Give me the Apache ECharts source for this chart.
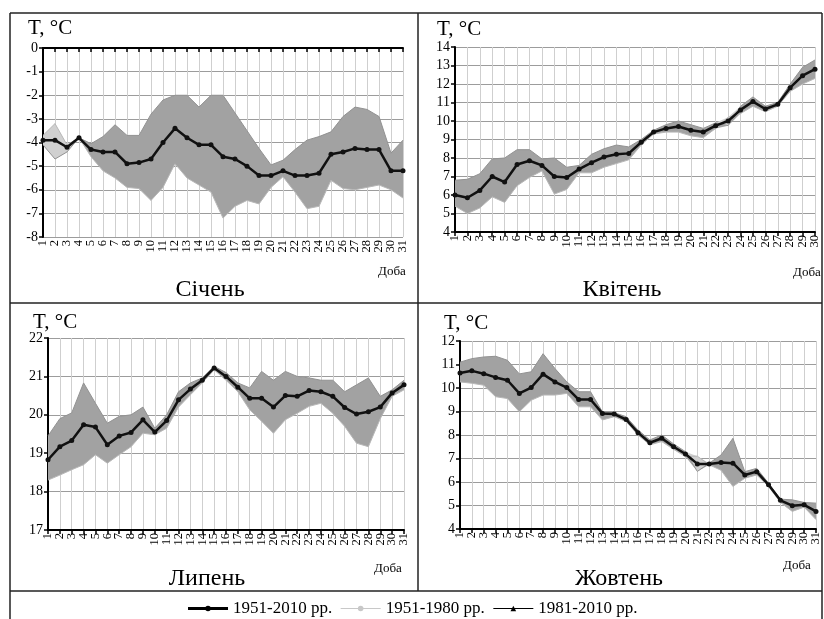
<!DOCTYPE html>
<html><head><meta charset="utf-8">
<script src="https://cdn.jsdelivr.net/npm/echarts@6/dist/echarts.min.js"></script>
<style>html,body{margin:0;padding:0;background:#fff}#c{width:824px;height:619px}</style>
</head><body><div id="c"></div>
<script>
const days31 = ['1','2','3','4','5','6','7','8','9','10','11','12','13','14','15','16','17','18','19','20','21','22','23','24','25','26','27','28','29','30','31'];
const days30 = ['1','2','3','4','5','6','7','8','9','10','11','12','13','14','15','16','17','18','19','20','21','22','23','24','25','26','27','28','29','30'];

const monthNames = ['Січень','Квітень','Липень','Жовтень'];
const seriesNames = ['1951-2010 рр.','1951-1980 рр.','1981-2010 рр.'];
const yUnit = 'T, °C';
const xUnit = 'Доба';

// January
const janAll = [-3.9,-3.9,-4.2,-3.8,-4.3,-4.4,-4.4,-4.9,-4.85,-4.7,-4.0,-3.4,-3.8,-4.1,-4.1,-4.6,-4.7,-5.0,-5.4,-5.4,-5.2,-5.4,-5.4,-5.3,-4.5,-4.4,-4.25,-4.3,-4.3,-5.2,-5.2];
const janP1 = [-3.7,-3.2,-4.1,-3.8,-4.6,-5.2,-5.5,-5.9,-5.95,-6.45,-5.9,-4.9,-5.5,-5.8,-6.1,-7.2,-6.7,-6.45,-6.6,-5.9,-5.45,-6.1,-6.8,-6.7,-5.6,-5.95,-6.0,-5.9,-5.8,-6.0,-6.35];
const janP2 = [-4.1,-4.7,-4.4,-3.8,-4.05,-3.75,-3.25,-3.7,-3.7,-2.8,-2.2,-2.0,-2.0,-2.5,-2.0,-2.0,-2.75,-3.5,-4.25,-4.95,-4.75,-4.3,-3.9,-3.75,-3.55,-2.9,-2.5,-2.6,-2.9,-4.45,-3.9];

// April
const aprAll = [6.0,5.85,6.25,7.0,6.7,7.65,7.85,7.6,7.0,6.95,7.4,7.75,8.05,8.2,8.25,8.85,9.4,9.6,9.7,9.5,9.4,9.75,10.0,10.6,11.05,10.65,10.9,11.8,12.45,12.8];
const aprP1 = [5.4,5.0,5.3,5.9,5.6,6.5,6.95,7.3,6.05,6.3,7.2,7.2,7.5,7.7,7.9,8.7,9.3,9.4,9.4,9.2,9.1,9.6,10.2,10.4,10.8,10.5,10.8,11.6,12.0,12.3];
const aprP2 = [6.8,6.85,7.15,7.95,8.0,8.45,8.45,7.95,8.0,7.5,7.6,8.2,8.5,8.7,8.6,9.0,9.5,9.8,10.0,9.8,9.6,9.9,9.75,10.8,11.3,10.8,11.0,12.0,12.9,13.3];

// July
const julAll = [18.83,19.17,19.33,19.74,19.68,19.22,19.45,19.54,19.87,19.55,19.85,20.39,20.67,20.9,21.22,21.0,20.72,20.43,20.43,20.2,20.5,20.48,20.63,20.6,20.48,20.19,20.02,20.08,20.2,20.57,20.78];
const julP1 = [18.3,18.43,18.57,18.7,18.96,18.74,18.96,19.17,19.52,19.48,19.65,20.2,20.52,20.83,21.17,20.9,20.6,20.13,19.83,19.52,19.87,20.04,20.22,20.3,20.04,19.7,19.26,19.17,19.9,20.48,20.65];
const julP2 = [19.45,19.9,20.05,20.83,20.3,19.78,19.96,20.0,20.2,19.65,20.0,20.6,20.83,20.96,21.26,21.1,20.83,20.7,21.13,20.9,21.13,21.0,20.96,20.9,20.9,20.6,20.78,20.96,20.48,20.65,20.9];

// October
const octAll = [10.64,10.73,10.61,10.45,10.33,9.77,10.02,10.59,10.26,10.02,9.51,9.51,8.92,8.89,8.66,8.1,7.67,7.86,7.5,7.19,6.77,6.77,6.83,6.8,6.3,6.44,5.88,5.22,4.99,5.03,4.75];
const octP1 = [10.26,10.2,10.12,9.63,9.55,8.99,9.48,9.7,9.7,9.77,9.2,9.2,8.64,8.78,8.57,8.0,7.58,7.72,7.39,7.08,7.1,6.73,6.5,5.81,6.16,6.3,5.81,5.13,4.75,4.93,4.4];
const octP2 = [11.1,11.25,11.32,11.35,11.18,10.6,10.69,11.46,10.83,10.26,9.84,9.84,8.99,8.95,8.78,8.21,7.79,8.0,7.62,7.29,6.45,6.8,7.15,7.86,6.44,6.58,5.95,5.27,5.24,5.13,5.1];

// y-axis ranges
const yMins = [-8, 4, 17, 4];
const yMaxs = [0, 14, 22, 12];

const months = [
  {days: days31, all: janAll, p1: janP1, p2: janP2},
  {days: days30, all: aprAll, p1: aprP1, p2: aprP2},
  {days: days31, all: julAll, p1: julP1, p2: julP2},
  {days: days31, all: octAll, p1: octP1, p2: octP2}
];

const SERIF = '"Liberation Serif", "DejaVu Serif", serif';
const grids = [
  {left: 43, top: 48, width: 360, height: 189},
  {left: 455, top: 47, width: 360, height: 185},
  {left: 48, top: 338, width: 356, height: 192},
  {left: 460, top: 341, width: 356, height: 188}
];

const xAxes = [], yAxes = [], series = [];
months.forEach((m, i) => {
  xAxes.push({
    gridIndex: i, type: 'category', data: m.days, boundaryGap: false,
    axisLine: {lineStyle: {color: '#000', width: 2}},
    axisTick: {show: true, interval: 0, length: 4, lineStyle: {color: '#000', width: 1.5}},
    axisLabel: {interval: 0, rotate: 90, fontSize: 12.5, fontFamily: SERIF, color: '#000', margin: 3},
    splitLine: {show: true, interval: 0, lineStyle: {color: '#cfcfcf', width: 1}}
  });
  yAxes.push({
    gridIndex: i, type: 'value', min: yMins[i], max: yMaxs[i], interval: 1,
    axisLine: {show: true, lineStyle: {color: '#000', width: 2}},
    axisTick: {show: true, length: 4, lineStyle: {color: '#000', width: 1.5}},
    axisLabel: {fontSize: 14, fontFamily: SERIF, color: '#000', margin: 5},
    splitLine: {show: true, lineStyle: {color: '#9c9c9c', width: 1}}
  });
  const lo = m.p1.map((v, k) => Math.min(v, m.p2[k]));
  const darkBand = m.p1.map((v, k) => Math.max(m.p2[k] - v, 0));
  const lightBand = m.p1.map((v, k) => Math.max(v - m.p2[k], 0));
  const common = {type: 'line', xAxisIndex: i, yAxisIndex: i, silent: true, symbol: 'none'};
  const st = {stack: 'band' + i, stackStrategy: 'all'};
  series.push(Object.assign({}, common, st, {name: 'base' + i, data: lo, lineStyle: {opacity: 0}, z: 1}));
  series.push(Object.assign({}, common, st, {name: 'dark' + i, data: darkBand, lineStyle: {opacity: 0}, areaStyle: {color: '#a2a2a2', opacity: 1}, z: 1}));
  series.push(Object.assign({}, common, st, {name: 'light' + i, data: lightBand, lineStyle: {opacity: 0}, areaStyle: {color: '#d0d0d0', opacity: 1}, z: 1}));
  series.push(Object.assign({}, common, {name: seriesNames[1], data: m.p1, symbol: 'circle', showSymbol: false, color: '#c4c4c4', lineStyle: {color: '#b8b8b8', width: 1}, z: 2}));
  series.push(Object.assign({}, common, {name: seriesNames[2], data: m.p2, symbol: 'triangle', showSymbol: false, color: '#8c8c8c', lineStyle: {color: '#929292', width: 1}, z: 2}));
  series.push(Object.assign({}, common, {name: seriesNames[0], data: m.all, color: '#111', symbol: 'circle', symbolSize: 5, showSymbol: true, lineStyle: {color: '#111', width: 2.5}, itemStyle: {color: '#111'}, z: 5}));
});

const titlePos = [[210, 290], [622, 290], [207, 579], [619, 579]];
const unitPos = [[28, 28], [437, 29], [33, 322], [444, 323]];
const dobaPos = [[392, 272], [807, 273], [388, 569], [797, 566]];

const graphic = [];
const frameLines = [
  [10, 13, 822, 13], [10, 13, 10, 619], [822, 13, 822, 619],
  [418, 13, 418, 591], [10, 303, 822, 303], [10, 591, 822, 591]
];
frameLines.forEach(l => graphic.push({type: 'line', shape: {x1: l[0], y1: l[1], x2: l[2], y2: l[3]}, style: {stroke: '#222', lineWidth: 1.5}, silent: true}));
monthNames.forEach((t, i) => {
  graphic.push({type: 'text', x: titlePos[i][0], y: titlePos[i][1], style: {text: t, font: '24px ' + SERIF, fill: '#000', textAlign: 'center', textVerticalAlign: 'middle'}});
  graphic.push({type: 'text', x: unitPos[i][0], y: unitPos[i][1], style: {text: yUnit, font: '21px ' + SERIF, fill: '#000', textAlign: 'left', textVerticalAlign: 'middle'}});
  graphic.push({type: 'text', x: dobaPos[i][0], y: dobaPos[i][1], style: {text: xUnit, font: '13px ' + SERIF, fill: '#000', textAlign: 'center', textVerticalAlign: 'middle'}});
});

const chart = echarts.init(document.getElementById('c'), null, {renderer: 'canvas'});
chart.setOption({
  animation: false,
  backgroundColor: '#fff',
  grid: grids,
  xAxis: xAxes,
  yAxis: yAxes,
  series: series,
  graphic: graphic,
  legend: {
    top: 595, left: 'center', itemGap: 8, itemWidth: 40, itemHeight: 7,
    textStyle: {fontFamily: SERIF, fontSize: 17, color: '#000'},
    data: [
      {name: seriesNames[0], itemStyle: {color: '#000'}, lineStyle: {color: '#000', width: 3}},
      {name: seriesNames[1], itemStyle: {color: '#c8c8c8'}, lineStyle: {color: '#c8c8c8', width: 1}},
      {name: seriesNames[2], itemStyle: {color: '#000'}, lineStyle: {color: '#000', width: 1}}
    ]
  }
});
</script></body></html>
